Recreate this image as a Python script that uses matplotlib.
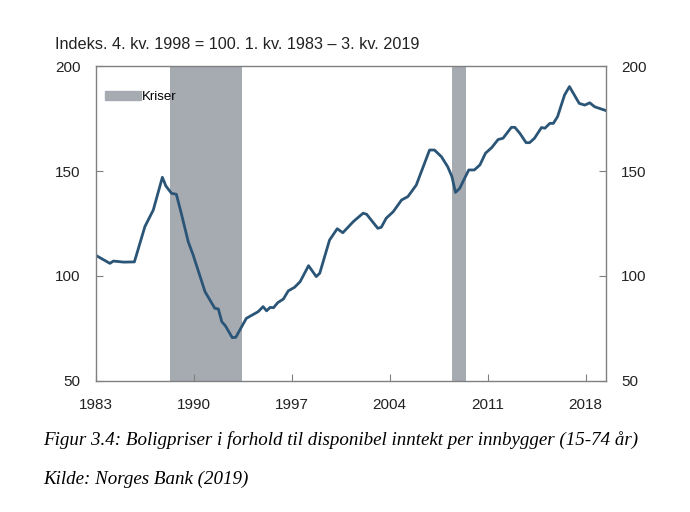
import matplotlib.pyplot as plt
from matplotlib.patches import Patch

# boligpriser / disponibel inntekt, indeks 4. kv. 1998 = 100 (lest av figuren)
years = [1983.0, 1984.0, 1984.25, 1985.0, 1985.75, 1986.5, 1987.1, 1987.75,
         1988.0, 1988.4, 1988.75, 1989.1, 1989.6, 1989.95, 1990.8, 1991.5,
         1991.75, 1992.0, 1992.25, 1992.75, 1993.0, 1993.75, 1994.6, 1994.95,
         1995.2, 1995.45, 1995.7, 1996.0, 1996.4, 1996.75, 1997.2, 1997.6,
         1998.2, 1998.75, 1999.0, 1999.7, 2000.25, 2000.65, 2001.4, 2002.1,
         2002.35, 2003.15, 2003.4, 2003.75, 2004.25, 2004.85, 2005.3, 2005.9,
         2006.85, 2007.2, 2007.7, 2008.15, 2008.45, 2008.7, 2009.0, 2009.65,
         2010.05, 2010.45, 2010.85, 2011.3, 2011.75, 2012.1, 2012.7, 2012.95,
         2013.3, 2013.75, 2014.0, 2014.35, 2014.85, 2015.1, 2015.45, 2015.7,
         2016.0, 2016.5, 2016.85, 2017.2, 2017.55, 2017.95, 2018.3, 2018.65,
         2019.5]
index = [109.8, 106.0, 107.1, 106.6, 106.7, 123.5, 131.4, 147.0,
         142.9, 139.4, 138.9, 129.9, 116.3, 110.0, 92.5, 84.6,
         84.3, 78.2, 76.3, 70.6, 70.8, 79.8, 83.0, 85.4,
         83.4, 85.0, 84.9, 87.3, 89.0, 92.9, 94.6, 97.3,
         104.9, 99.7, 101.3, 117.1, 122.5, 120.6, 125.9, 129.9,
         129.4, 122.7, 123.2, 127.5, 130.6, 136.2, 137.8, 143.3,
         160.0, 160.0, 156.8, 152.0, 147.3, 139.8, 141.7, 150.5,
         150.5, 152.9, 158.5, 161.2, 165.0, 165.6, 170.8, 170.8,
         168.0, 163.5, 163.5, 165.6, 170.7, 170.4, 172.7, 172.7,
         175.9, 186.2, 190.2, 186.2, 182.2, 181.4, 182.5, 180.6,
         178.7]

kriser = [(1988.3, 1993.45), (2008.45, 2009.45)]
yticks = [50, 100, 150, 200]
xticks = [1983, 1990, 1997, 2004, 2011, 2018]

plt.rcParams['font.family'] = ['Liberation Sans', 'DejaVu Sans']

fig = plt.figure(figsize=(6.9, 5.12), dpi=100)
ax = fig.add_axes([0.139, 0.256, 0.739, 0.615])

for start, end in kriser:
    ax.axvspan(start, end, color='#a6aab1', lw=0)
ax.plot(years, index, color='#2b5577', lw=2.0)

ax.set_xlim(1983, 2019.45)
ax.set_ylim(50, 200)
ax.set_xticks(xticks)
ax.set_yticks(yticks)
ax.tick_params(direction='in', length=5, color='#808080', labelsize=11,
               labelcolor='#222222', right=True, labelright=True)
ax.tick_params(axis='y', pad=11)
ax.tick_params(axis='x', pad=12)
for s in ax.spines.values():
    s.set_color('#808080')
    s.set_linewidth(1.0)

ax.legend(handles=[Patch(color='#a6aab1', label='Kriser')], loc='upper left',
          frameon=False, fontsize=9.5, handlelength=2.7, handleheight=0.6,
          handletextpad=0.05, borderaxespad=0.3, bbox_to_anchor=(0.0, 0.95))

fig.text(0.08, 0.913, 'Indeks. 4. kv. 1998 = 100. 1. kv. 1983 \u2013 3. kv. 2019',
         fontsize=11.7, color='#222222', va='center')

fig.text(0.062, 0.14, 'Figur 3.4: Boligpriser i forhold til disponibel inntekt per innbygger (15-74 år)',
         family='Liberation Serif', style='italic', fontsize=13.7, va='center')
fig.text(0.062, 0.064, 'Kilde: Norges Bank (2019)',
         family='Liberation Serif', style='italic', fontsize=13.7, va='center')

fig.savefig('out.png', dpi=100)
